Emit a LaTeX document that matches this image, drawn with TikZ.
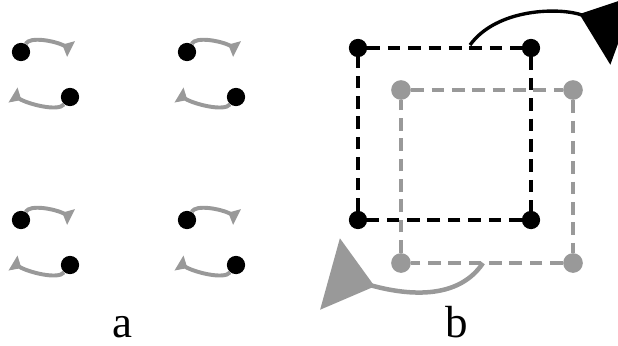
\documentclass[tikz,border=0pt]{standalone}
\usepackage{fontspec}
\setmainfont{Liberation Serif}
\usetikzlibrary{arrows.meta}
\definecolor{lgray}{HTML}{999999}

\tikzset{
  bdot/.style={circle,fill=black,inner sep=0pt,minimum size=13pt},
  gdot/.style={circle,fill=lgray,inner sep=0pt,minimum size=14pt},
  swaparr/.style={draw=lgray,line width=2.8pt,
    -{Triangle[reversed,length=7pt,width=12pt]}},
  kedge/.style={draw=black,line width=3pt,dash pattern=on 9pt off 5.5pt},
  gedge/.style={draw=lgray,line width=3pt,dash pattern=on 9pt off 5.5pt},
  bigarr/.style={line width=#1,-{Triangle[reversed,length=33pt,width=52pt]}},
  lbl/.style={anchor=base,font=\fontsize{32}{36}\selectfont}
}

\begin{document}
\begin{tikzpicture}[x=0.025cm,y=-0.025cm]
\useasboundingbox (0,0) rectangle (618,345);
\clip (0,0) rectangle (618,345);
% panel a: pairs of sites
\node[bdot] (a1u) at (21,52) {};
\node[bdot] (a1l) at (70,97) {};
\node[bdot] (a2u) at (187,52) {};
\node[bdot] (a2l) at (236,97) {};
\node[bdot] (a3u) at (21,220) {};
\node[bdot] (a3l) at (70,265) {};
\node[bdot] (a4u) at (187,220) {};
\node[bdot] (a4l) at (236,265) {};
\draw[swaparr] (a1u) .. controls +(9,-16) and +(-16,-8) .. +(50,-3);
\draw[swaparr] (a1l) .. controls +(-12,15) and +(15,9) .. +(-57,-2);
\draw[swaparr] (a2u) .. controls +(9,-16) and +(-16,-8) .. +(50,-3);
\draw[swaparr] (a2l) .. controls +(-12,15) and +(15,9) .. +(-57,-2);
\draw[swaparr] (a3u) .. controls +(9,-16) and +(-16,-8) .. +(50,-3);
\draw[swaparr] (a3l) .. controls +(-12,15) and +(15,9) .. +(-57,-2);
\draw[swaparr] (a4u) .. controls +(9,-16) and +(-16,-8) .. +(50,-3);
\draw[swaparr] (a4l) .. controls +(-12,15) and +(15,9) .. +(-57,-2);
% panel b: two squares
\node[gdot] (g1) at (401,90) {};
\node[gdot] (g2) at (573,90) {};
\node[gdot] (g3) at (573,263) {};
\node[gdot] (g4) at (401,263) {};
\draw[gedge] (g1) -- (g2) -- (g3) -- (g4) -- (g1);
\node[bdot] (k1) at (358,48) {};
\node[bdot] (k2) at (531,48) {};
\node[bdot] (k3) at (531,220) {};
\node[bdot] (k4) at (358,220) {};
\draw[kedge] (k1) -- (k2) -- (k3) -- (k4) -- (k1);
\coordinate (ks) at (470,45);
\coordinate (ke) at (623,30);
\coordinate (gs) at (483,263);
\coordinate (ge) at (330,274);
\draw[bigarr=2.4pt,black] (ks) .. controls (497,8) and (560,7) .. (ke);
\draw[bigarr=3.2pt,lgray] (gs) .. controls (455,305) and (395,292) .. (ge);
\node[lbl] (la) at (122,337) {a};
\node[lbl] (lb) at (457,337) {b};
\end{tikzpicture}
\end{document}
